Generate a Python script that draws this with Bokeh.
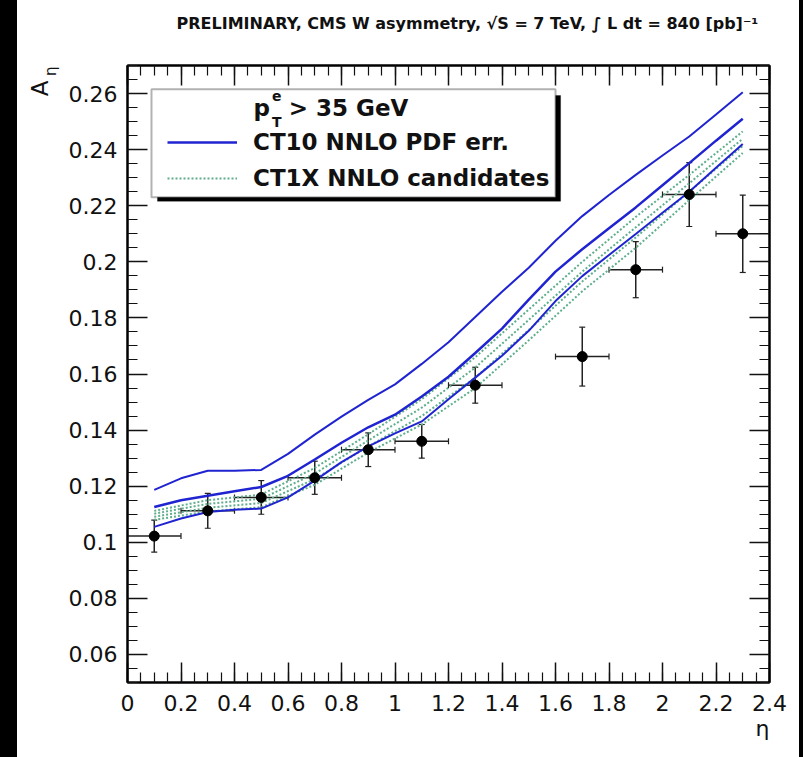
from bokeh.plotting import figure
from bokeh.models import (Range1d, LinearAxis, FixedTicker, Whisker, TeeHead,
                          ColumnDataSource, Legend, LegendItem, Label, Title,
                          BoxAnnotation, Spacer)
from bokeh.layouts import row
from bokeh.embed import file_html
from bokeh.resources import INLINE

# ---------------- data ----------------
# CMS W asymmetry data points (bin centres, bin half widths, values, errors)
eta_pts = [0.1, 0.3, 0.5, 0.7, 0.9, 1.1, 1.3, 1.7, 1.9, 2.1, 2.3]
eta_half = [0.1, 0.1, 0.1, 0.1, 0.1, 0.1, 0.1, 0.1, 0.1, 0.1, 0.1]
asym = [0.1022, 0.1112, 0.1160, 0.1230, 0.1330, 0.1360, 0.1560, 0.1662, 0.1972, 0.2240, 0.2100]
asym_err = [0.0057, 0.0062, 0.0060, 0.0059, 0.0060, 0.0060, 0.0064, 0.0105, 0.0100, 0.0114, 0.0138]

# CT10 NNLO PDF error curves
eta_curve = [0.1, 0.2, 0.3, 0.4, 0.5, 0.6, 0.7, 0.8, 0.9, 1.0, 1.1, 1.2,
             1.3, 1.4, 1.5, 1.6, 1.7, 1.8, 1.9, 2.0, 2.1, 2.2, 2.3]
ct10_upper = [0.1187, 0.1228, 0.1255, 0.1255, 0.1258, 0.1315, 0.1384, 0.1448, 0.1508, 0.1563,
              0.1636, 0.1713, 0.1803, 0.1893, 0.1979, 0.2075, 0.2163, 0.2238, 0.2310, 0.2379,
              0.2447, 0.2525, 0.2605]
ct10_central = [0.1126, 0.1150, 0.1166, 0.1182, 0.1197, 0.1237, 0.1295, 0.1355, 0.1410, 0.1455,
                0.1520, 0.1590, 0.1675, 0.1762, 0.1865, 0.1965, 0.2045, 0.2120, 0.2194, 0.2273,
                0.2352, 0.2432, 0.2510]
ct10_lower = [0.1055, 0.1085, 0.1108, 0.1116, 0.1120, 0.1160, 0.1220, 0.1286, 0.1342, 0.1388,
              0.1431, 0.1510, 0.1587, 0.1665, 0.1754, 0.1860, 0.1949, 0.2024, 0.2099, 0.2175,
              0.2250, 0.2335, 0.2420]

# CT1X NNLO candidates
eta_cand = [0.1, 0.3, 0.5, 0.7, 0.9, 1.1, 1.3, 1.5, 1.7, 1.9, 2.1, 2.3]
ct1x_a = [0.1112, 0.1150, 0.1170, 0.1265, 0.1385, 0.1510, 0.1660, 0.1830, 0.2000, 0.2160, 0.2310, 0.2465]
ct1x_b = [0.1102, 0.1137, 0.1155, 0.1245, 0.1363, 0.1480, 0.1623, 0.1793, 0.1965, 0.2123, 0.2280, 0.2439]
ct1x_c = [0.1091, 0.1123, 0.1140, 0.1225, 0.1342, 0.1450, 0.1587, 0.1757, 0.1930, 0.2087, 0.2250, 0.2413]
ct1x_d = [0.1080, 0.1110, 0.1125, 0.1205, 0.1320, 0.1420, 0.1550, 0.1720, 0.1895, 0.2050, 0.2220, 0.2388]

# ticks
x_ticks = [0, 0.2, 0.4, 0.6, 0.8, 1.0, 1.2, 1.4, 1.6, 1.8, 2.0, 2.2, 2.4]
x_tick_labels = ["0", "0.2", "0.4", "0.6", "0.8", "1", "1.2", "1.4", "1.6", "1.8", "2", "2.2", "2.4"]
y_ticks = [0.06, 0.08, 0.10, 0.12, 0.14, 0.16, 0.18, 0.20, 0.22, 0.24, 0.26]
y_tick_labels = ["0.06", "0.08", "0.1", "0.12", "0.14", "0.16", "0.18", "0.2", "0.22", "0.24", "0.26"]
x_minor = [round(i * 0.05, 3) for i in range(49)]
y_minor = [round(0.05 + i * 0.005, 4) for i in range(45)]

title_text = "PRELIMINARY, CMS W asymmetry,  \u221aS = 7 TeV,  \u222b L dt = 840 [pb]\u207b\u00b9"

# ---------------- styling ----------------
BLUE = "#2024d0"
GREEN = "#5fae8c"
FONT = "DejaVu Sans"
INK = "#111111"

p = figure(width=782, height=757, x_range=Range1d(0, 2.4), y_range=Range1d(0.05, 0.27),
           output_backend="svg", toolbar_location=None, x_axis_type=None, y_axis_type=None,
           min_border_left=110, min_border_right=30, min_border_top=64, min_border_bottom=75,
           background_fill_color="white", border_fill_color="white")
p.outline_line_color = "black"
p.outline_line_width = 2


def make_axis(ticks, minor, labels, show):
    ax = LinearAxis(ticker=FixedTicker(ticks=ticks, minor_ticks=minor),
                    axis_line_width=2, axis_line_color="black",
                    major_tick_in=20, major_tick_out=0, minor_tick_in=10, minor_tick_out=0,
                    major_tick_line_width=1.5, minor_tick_line_width=1.2,
                    major_tick_line_color=INK, minor_tick_line_color=INK)
    if show:
        ax.major_label_overrides = {t: s for t, s in zip(ticks, labels)}
        ax.major_label_text_font = FONT
        ax.major_label_text_font_size = "22px"
        ax.major_label_text_color = INK
    else:
        ax.major_label_overrides = {t: "" for t in ticks}
        ax.major_label_standoff = 0
    return ax


ax_b = make_axis(x_ticks, x_minor, x_tick_labels, True)
ax_b.major_label_standoff = 12
ax_l = make_axis(y_ticks, y_minor, y_tick_labels, True)
ax_l.major_label_standoff = 10
p.add_layout(ax_b, "below")
p.add_layout(ax_l, "left")
p.add_layout(make_axis(x_ticks, x_minor, x_tick_labels, False), "above")
p.add_layout(make_axis(y_ticks, y_minor, y_tick_labels, False), "right")

# invisible spacer axis: lifts the title away from the frame
gap_axis = LinearAxis(ticker=FixedTicker(ticks=[0, 2.4], minor_ticks=[]),
                      axis_line_color=None, major_tick_line_color=None,
                      minor_tick_line_color=None, major_tick_in=0, major_tick_out=22,
                      minor_tick_in=0, minor_tick_out=0, major_label_standoff=0,
                      major_label_overrides={0: "", 2.4: ""})
p.add_layout(gap_axis, "above")

# titles placed in the side panels
p.add_layout(Title(text=title_text, align="right", text_font=FONT, text_font_size="16px",
                   text_font_style="bold", text_color=INK, standoff=22), "above")
p.add_layout(Title(text="\u03b7", align="right", text_font=FONT, text_font_size="22px",
                   text_font_style="normal", text_color=INK, standoff=0, offset=0), "below")
p.add_layout(Title(text="\u03b7", align="right", text_font=FONT, text_font_size="15px",
                   text_font_style="normal", text_color=INK, standoff=11, offset=1), "left")
p.add_layout(Title(text="A", align="right", text_font=FONT, text_font_size="23px",
                   text_font_style="normal", text_color=INK, standoff=-36, offset=15), "left")

# CT1X candidates (dotted green)
cand_renderers = []
for arr in (ct1x_a, ct1x_b, ct1x_c, ct1x_d):
    r = p.line(eta_cand, arr, line_color=GREEN, line_width=2, line_dash="2 2")
    cand_renderers.append(r)

# CT10 curves
r_up = p.line(eta_curve, ct10_upper, line_color=BLUE, line_width=2)
r_c = p.line(eta_curve, ct10_central, line_color=BLUE, line_width=2.5)
r_lo = p.line(eta_curve, ct10_lower, line_color=BLUE, line_width=2)

# data points with error bars
src = ColumnDataSource(dict(
    eta=eta_pts, asym=asym,
    lo=[a - e for a, e in zip(asym, asym_err)],
    hi=[a + e for a, e in zip(asym, asym_err)],
    eta_lo=[x - h for x, h in zip(eta_pts, eta_half)],
    eta_hi=[x + h for x, h in zip(eta_pts, eta_half)],
))
for dim, base, lo, hi in (("height", "eta", "lo", "hi"), ("width", "asym", "eta_lo", "eta_hi")):
    p.add_layout(Whisker(source=src, base=base, lower=lo, upper=hi, dimension=dim,
                         line_color="#222", line_width=1.5,
                         upper_head=TeeHead(size=6, line_color="#222", line_width=1.2),
                         lower_head=TeeHead(size=6, line_color="#222", line_width=1.2)))
p.scatter("eta", "asym", source=src, size=10, color="black")

# legend box with shadow
p.add_layout(BoxAnnotation(left=0.112, right=1.619, top=0.2593, bottom=0.2216,
                           fill_color="black", fill_alpha=1, line_color="black", line_width=1))
p.add_layout(BoxAnnotation(left=0.0897, right=1.600, top=0.2615, bottom=0.2230,
                           fill_color="white", fill_alpha=1, line_color="black", line_width=2))

legend = Legend(items=[LegendItem(label="CT10 NNLO PDF err.", renderers=[r_c]),
                       LegendItem(label="CT1X NNLO candidates", renderers=[cand_renderers[0]])],
                location=(40, 489), padding=0, spacing=6, margin=0,
                glyph_width=70, glyph_height=30, label_height=30, label_standoff=16,
                border_line_color=None, background_fill_alpha=0,
                label_text_font=FONT, label_text_font_style="bold",
                label_text_font_size="23px", label_text_color=INK)
p.add_layout(legend)


def lab(x, y, text, size, style="bold"):
    p.add_layout(Label(x=x, y=y, text=text, text_font=FONT, text_font_size=size,
                       text_font_style=style, text_align="left", text_baseline="alphabetic",
                       text_color=INK))


# legend header p_T^e > 35 GeV
lab(0.471, 0.2547, "p", "23px")
lab(0.540, 0.2590, "e", "14px")
lab(0.540, 0.2497, "T", "14px")
lab(0.603, 0.2547, "> 35 GeV", "23px")

root = row(Spacer(width=17, height=757, styles={"background-color": "black"}),
           p,
           Spacer(width=4, height=757, styles={"background-color": "black"}))

open("out.html", "w").write(file_html(root, INLINE))
